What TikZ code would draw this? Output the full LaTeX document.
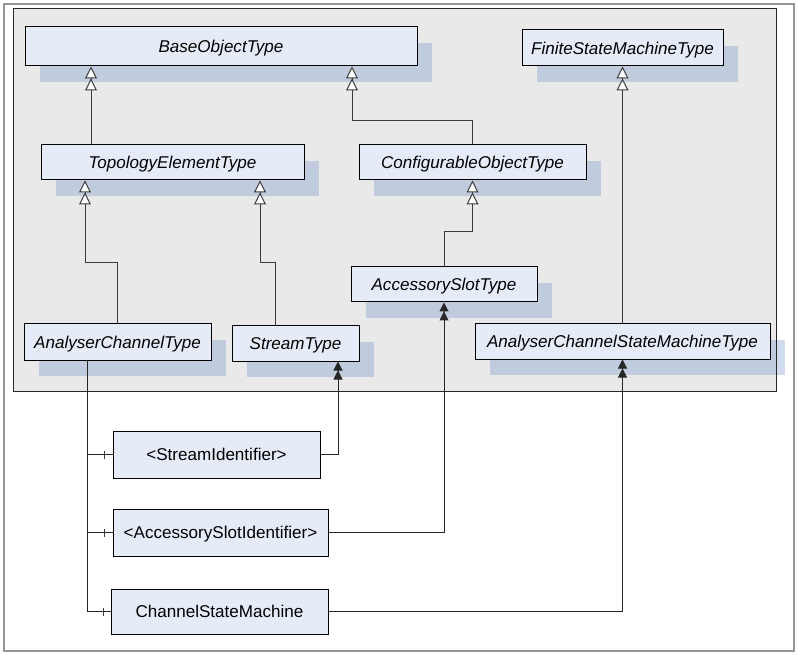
\documentclass[tikz,border=0pt]{standalone}
\usepackage{fontspec}
\setmainfont{Liberation Sans}
\usetikzlibrary{arrows.meta,calc,shadows}
\definecolor{boxfill}{RGB}{230,236,247}
\definecolor{shadowc}{RGB}{100,136,196}
\definecolor{areafill}{RGB}{233,233,233}
\definecolor{linec}{RGB}{60,60,60}
\definecolor{framec}{RGB}{150,150,150}
\begin{document}
\begin{tikzpicture}[x=0.75pt,y=-0.75pt,
  box/.style={draw=black, fill=boxfill, line width=0.75pt, inner sep=0pt,
    text depth=0pt, font=\fontsize{12.8pt}{15pt}\selectfont},
  typebox/.style={box, font=\fontsize{12.8pt}{15pt}\selectfont\itshape,
    drop shadow={shadow xshift=11.25pt, shadow yshift=-12pt, fill=shadowc, opacity=0.3}},
  sz/.style 2 args={minimum width={#1*0.75pt}, minimum height={#2*0.75pt}},
  inh/.style={draw=linec, line width=0.75pt,
    -{Triangle[fill=white, length=9pt, width=9pt, sep=0pt] Triangle[fill=white, length=9pt, width=9pt]}},
  typ/.style={draw=black!85, line width=0.75pt,
    -{Triangle[length=6.75pt, width=6.75pt, sep=0pt] Triangle[length=6.75pt, width=6.75pt]}},
  comp/.style={draw=black!85, line width=0.75pt},
  tick/.style={draw=linec, line width=0.6pt}
]
\useasboundingbox (0,0) rectangle (798,655);
% outer frame
\draw[framec, line width=1.5pt] (4,4) rectangle (794,651);
% grey area
\fill[areafill] (13,9) rectangle (776,391);

% type nodes
\node[typebox, sz={392}{39}] (base) at (221,46.5) {BaseObjectType};
\node[typebox, sz={201}{36}] (fsm) at (622.5,48) {FiniteStateMachineType};
\node[typebox, sz={263}{35}] (topo) at (172.5,162.5) {TopologyElementType};
\node[typebox, sz={227}{35}] (conf) at (472.5,162.5) {ConfigurableObjectType};
\node[typebox, sz={186}{35}] (acs) at (444,284.5) {AccessorySlotType};
\node[typebox, sz={187}{36}] (act) at (117.5,342) {AnalyserChannelType};
\node[typebox, sz={127}{35}] (st) at (295.5,343.5) {StreamType};
\node[typebox, sz={295}{35}] (acsm) at (622.5,341.5) {AnalyserChannelStateMachineType};

% grey area border
\draw[black!85, line width=0.75pt] (13,9) rectangle (776,391);

% instance nodes
\node[box, sz={207}{47}] (sid) at (216.5,454.5) {<StreamIdentifier>};
\node[box, sz={215}{47}] (asid) at (220.5,532.5) {<AccessorySlotIdentifier>};
\node[box, sz={217}{45}] (csm) at (219.5,611.5) {ChannelStateMachine};

% subtype connectors
\draw[inh] ($(topo.north)+(-81.5,0)$) coordinate (t1) -- (t1 |- base.south);
\draw[inh] (conf.north) -- ++(0,-24) -| ($(base.south)+(131,0)$);
\draw[inh] (act.north) -- ++(0,-61) -| ($(topo.south)+(-87.5,0)$);
\draw[inh] ($(st.north)+(-20.5,0)$) -- ++(0,-63) -| ($(topo.south)+(87.5,0)$);
\draw[inh] (acs.north) -- ++(0,-35) -| (conf.south);
\draw[inh] (acsm.north) -- (fsm.south);

% component connectors
\coordinate (v) at ($(act.south)+(-30.5,0)$);
\draw[comp] (v) |- (sid.west);
\draw[comp] (v) |- (asid.west);
\draw[comp] (v) |- (csm.west);
\draw[tick] ($(sid.west)+(-8,-4)$) -- ++(0,8);
\draw[tick] ($(asid.west)+(-8,-4)$) -- ++(0,8);
\draw[tick] ($(csm.west)+(-7,-4)$) -- ++(0,8);

% type definition connectors
\draw[typ] (sid.east) -| ($(st.south)+(42.5,0)$);
\draw[typ] (asid.east) -| (acs.south);
\draw[typ] (csm.east) -| (acsm.south);
\end{tikzpicture}
\end{document}
